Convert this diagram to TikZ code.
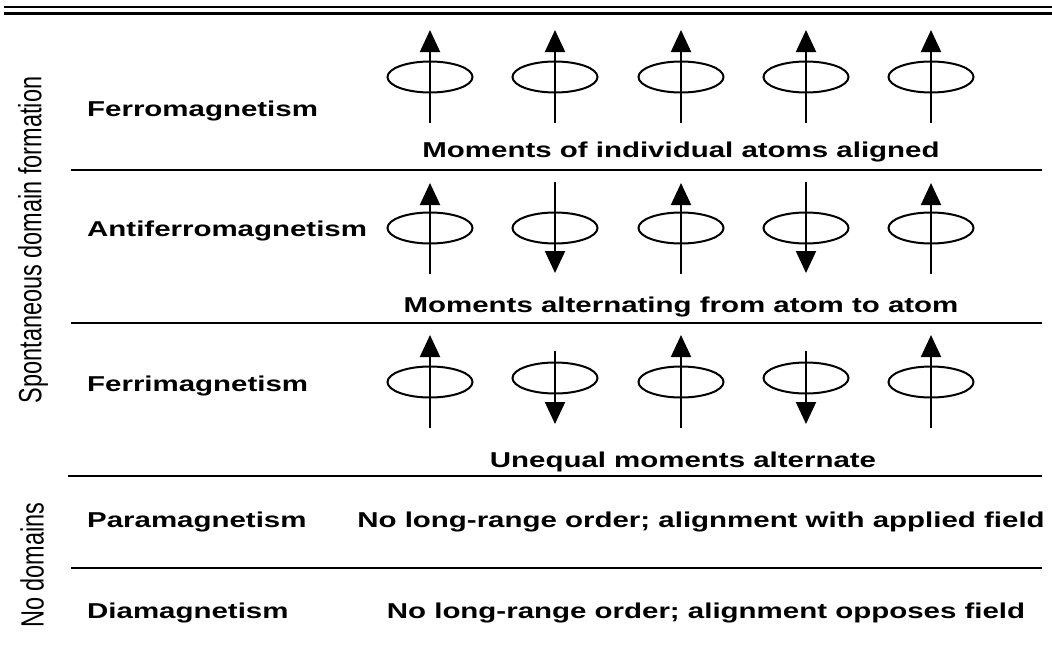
\documentclass[tikz,border=0pt]{standalone}
\usepackage{fontspec}
\setmainfont{Liberation Sans}[FakeStretch=1.37]
\newfontfamily\sidefont{Liberation Sans}
\usetikzlibrary{shapes.geometric,arrows.meta,calc}

\begin{document}
\begin{tikzpicture}[x=1pt,y=-1pt,
    rowlabel/.style={anchor=base west,inner sep=0pt,font=\fontsize{21.5}{25}\selectfont\bfseries},
    caption/.style={anchor=base,inner sep=0pt,font=\fontsize{21.5}{25}\selectfont\bfseries},
    grouplabel/.style={rotate=90,yscale=1.37,inner sep=0pt,font=\sidefont\fontsize{23.5}{26}\selectfont},
    orbit/.style={draw,ellipse,line width=2pt,minimum width=85pt,minimum height=31pt,inner sep=0pt},
    spin/.style={line width=2pt,-{Triangle[width=20pt,length=22pt]}},
    divider/.style={line width=2pt}]
  \useasboundingbox (0,0) rectangle (1052,651);

  % title rules
  \draw[line width=2.4pt] (4,7) -- (1052,7);
  \draw[line width=3pt] (4,13) -- (1052,13);

  % separators
  \draw[divider] (71,170) -- (1042,170);
  \draw[divider] (71,323) -- (1042,323);
  \draw[divider] (68,476) -- (1042,476);
  \draw[divider] (71,568) -- (1042,568);

  % group labels
  \node[grouplabel] (spont) at (33,240) {Spontaneous domain formation};
  \node[grouplabel] (nodom) at (32,565) {No domains};

  % row labels
  \node[rowlabel] (ferro) at (87,116) {Ferromagnetism};
  \node[rowlabel] (antiferro) at (87,236) {Antiferromagnetism};
  \node[rowlabel] (ferri) at (87,391) {Ferrimagnetism};
  \node[rowlabel] (para) at (87,527) {Paramagnetism};
  \node[rowlabel] (dia) at (87,618) {Diamagnetism};

  % ferromagnetism
  \foreach \i/\x in {1/430,2/555,3/681,4/806,5/931} {
    \node[orbit] (fe\i) at (\x,77) {};
    \draw[spin] ($(fe\i)+(0,46)$) -- ($(fe\i)+(0,-47)$);
  }
  \node[caption] (fecap) at (681,157) {Moments of individual atoms aligned};

  % antiferromagnetism
  \foreach \i/\x/\d in {1/430/1,2/555/-1,3/681/1,4/806/-1,5/931/1} {
    \node[orbit] (af\i) at (\x,228) {};
    \draw[spin] ($(af\i)+(0,{46*\d})$) -- ($(af\i)+(0,{-45*\d})$);
  }
  \node[caption] (afcap) at (681,312) {Moments alternating from atom to atom};

  % ferrimagnetism
  \foreach \i/\x in {1/430,3/681,5/931} {
    \node[orbit] (fi\i) at (\x,382) {};
    \draw[spin] ($(fi\i)+(0,46)$) -- ($(fi\i)+(0,-47)$);
  }
  \foreach \i/\x in {2/555,4/806} {
    \node[orbit] (fi\i) at (\x,378) {};
    \draw[spin] ($(fi\i)+(0,-27)$) -- ($(fi\i)+(0,46)$);
  }
  \node[caption] (ficap) at (683,467) {Unequal moments alternate};

  % no domains
  \node[caption] (paracap) at (701,527) {No long-range order; alignment with applied field};
  \node[caption] (diacap) at (706,618) {No long-range order; alignment opposes field};
\end{tikzpicture}
\end{document}
